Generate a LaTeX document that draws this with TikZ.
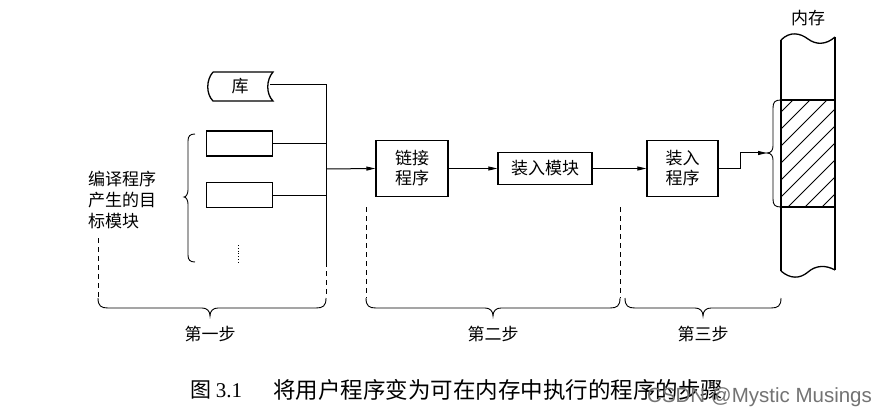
\documentclass[tikz,border=0pt]{standalone}
\usepackage{fontspec}
\setmainfont{Liberation Serif}
\newfontfamily\cjk{Noto Sans CJK SC}
\newfontfamily\wmfont{Liberation Sans}
\usetikzlibrary{arrows.meta}
\tikzset{
  box/.style={draw, line width=1.3pt, inner sep=0pt, font=\cjk\fontsize{17}{20}\selectfont, align=center},
  lbl/.style={font=\cjk\fontsize{17}{21}\selectfont, inner sep=0pt, align=left},
  conn/.style={line width=1pt},
  arr/.style={conn, -{Triangle[length=9pt,width=4pt]}},
  dsh/.style={line width=0.9pt, dash pattern=on 5pt off 4pt},
  brc/.style={line width=0.9pt},
}
\newcommand\hbr[4]{% x1 x2 xm ytop
  \draw[brc] (#1,#4) .. controls (#1,#4+8) and (#1+3,#4+10) .. (#1+10,#4+10)
    -- (#3-8,#4+10) .. controls (#3-3,#4+10) and (#3,#4+13) .. (#3,#4+18)
    .. controls (#3,#4+13) and (#3+3,#4+10) .. (#3+8,#4+10)
    -- (#2-10,#4+10) .. controls (#2-3,#4+10) and (#2,#4+8) .. (#2,#4);}
\begin{document}
\begin{tikzpicture}[x=1pt,y=-1pt]
\useasboundingbox (0,0) rectangle (893,414);
\fill[white] (0,0) rectangle (893,414);

% library shape
\draw[line width=1.3pt] (213,72) -- (273,72) .. controls (266,80) and (266,94) .. (273,101)
  -- (213,101) .. controls (206,94) and (206,80) .. (213,72);
\node[lbl] (ku) at (240,86.5) {库};
\coordinate (kuR) at (270,85);

% object modules
\node[box, minimum width=66pt, minimum height=25pt] (o1) at (239.5,143.5) {};
\node[box, minimum width=66pt, minimum height=25pt] (o2) at (239.5,195) {};
\draw[line width=0.8pt, dotted] (238,245) -- (238,262);

% bus
\coordinate (b0) at (326,85);
\coordinate (b3) at (326,169);
\coordinate (bE) at (326,262);
\coordinate (bD) at (326,298);
\draw[conn] (kuR) -- (b0) -- (bE);
\draw[conn] (o1.east) -- (o1.east -| b0);
\draw[conn] (o2.east) -- (o2.east -| b0);
\draw[dsh] (bE) -- (bD);

% pipeline boxes
\node[box, minimum width=72pt, minimum height=56pt] (link) at (412,168.5) {链接\\程序};
\node[box, minimum width=94pt, minimum height=32pt] (mod) at (545,168.5) {装入模块};
\node[box, minimum width=71pt, minimum height=56pt] (load) at (682.5,168.5) {装入\\程序};
\draw[arr] (b3) -- (link.west);
\draw[arr] (link.east) -- (mod.west);
\draw[arr] (mod.east) -- (load.west);

% memory
\begin{scope}
  \clip (781,100) rectangle (835,207);
  \foreach \i in {-112,-95,...,60} {
    \draw[line width=0.8pt] (781+\i,207) -- (781+\i+107,100);
  }
\end{scope}
\draw[line width=1.3pt] (781,40) .. controls (790,31) and (800,33) .. (808,39)
  .. controls (816,45) and (826,45) .. (835,37);
\draw[line width=1.3pt] (781,271) .. controls (790,279) and (800,279) .. (808,272)
  .. controls (816,265) and (826,265) .. (835,270);
\draw[line width=1.3pt] (781,40) -- (781,271);
\draw[line width=1.3pt] (835,37) -- (835,270);
\draw[line width=1.3pt] (781,100) -- (835,100);
\draw[line width=1.3pt] (781,207) -- (835,207);
\node[lbl] (mem) at (808,18) {内存};

% memory brace
\coordinate (mtip) at (767,153);
\draw[brc] (781,100) .. controls (775,100) and (773,102) .. (773,108)
  -- (773,146) .. controls (773,150) and (771,153) .. (mtip)
  .. controls (771,153) and (773,156) .. (773,160)
  -- (773,199) .. controls (773,205) and (775,207) .. (781,207);
\coordinate (k1) at (740,168.5);
\coordinate (k2) at (740,153);
\draw[arr] (load.east) -- (k1) -- (k2) -- (mtip);

% left brace and text
\draw[brc] (195,134) .. controls (190,134) and (188,136) .. (188,141)
  -- (188,190) .. controls (188,194) and (186,197) .. (184,197)
  .. controls (186,197) and (188,200) .. (188,204)
  -- (188,255) .. controls (188,260) and (190,262) .. (195,262);
\node[lbl, anchor=north west] (txt) at (88,171) {编译程序\\产生的目\\标模块};

% dashed lines
\coordinate (d1t) at (98,238);
\coordinate (d1b) at (98,298);
\draw[dsh] (d1t) -- (d1b);
\coordinate (d2t) at (366,207);
\coordinate (d2b) at (366,298);
\coordinate (d3t) at (620,207);
\coordinate (d3b) at (620,298);
\draw[dsh] (d2t) -- (d2b);
\draw[dsh] (d3t) -- (d3b);

% step braces
\hbr{98}{326}{210}{298}
\hbr{366}{620}{493}{298}
\hbr{625}{781}{703}{298}
\node[lbl] (s1) at (210,334) {第一步};
\node[lbl] (s2) at (493,334) {第二步};
\node[lbl] (s3) at (703,334) {第三步};

% caption
\node[anchor=west, inner sep=0pt, font=\fontsize{21}{24}\selectfont] (capn) at (190,390) {\cjk 图\ \rmfamily 3.1};
\node[anchor=west, inner sep=0pt, font=\cjk\fontsize{22.5}{24}\selectfont] (cap) at (273,390) {将用户程序变为可在内存中执行的程序的步骤};
\node[anchor=west, inner sep=0pt, font=\wmfont\fontsize{20.5}{22}\selectfont, text=black!55] (wm) at (647,397) {CSDN @Mystic Musings};
\end{tikzpicture}
\end{document}
